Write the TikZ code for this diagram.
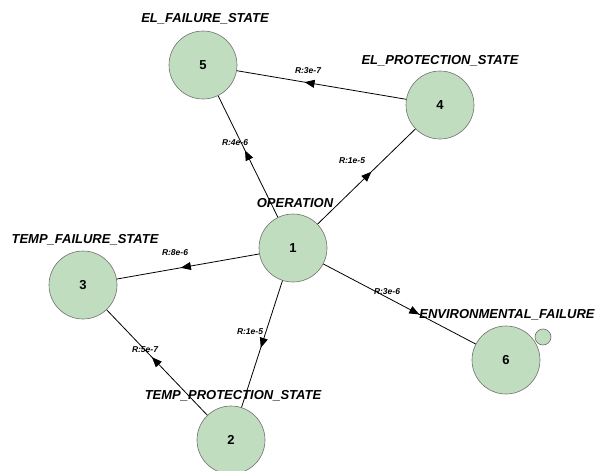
\documentclass[tikz,border=0pt]{standalone}
\usepackage{fontspec}
\setmainfont{Liberation Sans}
\usetikzlibrary{arrows.meta,decorations.markings}
\definecolor{stategreen}{RGB}{192,221,192}
\definecolor{stateedge}{RGB}{110,110,110}
\tikzset{
  state/.style={circle, draw=stateedge, fill=stategreen, line width=0.6pt,
    minimum size=68pt, inner sep=0pt, font=\fontsize{13}{13}\selectfont\bfseries},
  statename/.style={font=\fontsize{13}{13}\selectfont\bfseries\itshape},
  rate/.style={font=\fontsize{8.5}{8.5}\selectfont\bfseries\itshape},
  midtip/.style={postaction={decorate}, decoration={markings,
    mark=at position #1 with {\arrow{Triangle[length=10pt,width=8pt]}}}},
  trans/.style={draw, black, line width=0.8pt}
}
\begin{document}
\begin{tikzpicture}[x=1pt,y=-1pt]
                    \useasboundingbox (0,0) rectangle (598,471);
                    % States
                    \node[state] (s1) at (293,248) {1};
                    \node[state] (s2) at (231,440) {2};
                    \node[state] (s3) at (83,285) {3};
                    \node[state] (s4) at (440,105) {4};
                    \node[state] (s5) at (203,65) {5};
                    \node[state] (s6) at (506,360) {6};
                    \node[circle, draw=stateedge, fill=stategreen, line width=0.6pt,
                      minimum size=16pt, inner sep=0pt] (s6self) at (543,337) {};
                    % State names
                    \node[statename] (n1) at (295,203) {OPERATION};
                    \node[statename] (n2) at (233,396) {TEMP\_PROTECTION\_STATE};
                    \node[statename] (n3) at (85,240) {TEMP\_FAILURE\_STATE};
                    \node[statename] (n4) at (440,61) {EL\_PROTECTION\_STATE};
                    \node[statename] (n5) at (205,19) {EL\_FAILURE\_STATE};
                    \node[statename] (n6) at (507,315) {ENVIRONMENTAL\_FAILURE};
                    % Transitions
                    \draw[trans, midtip=0.55] (s1) -- (s5);
                    \draw[trans, midtip=0.55] (s1) -- (s4);
                    \draw[trans, midtip=0.6] (s4) -- (s5);
                    \draw[trans, midtip=0.55] (s1) -- (s3);
                    \draw[trans, midtip=0.63] (s1) -- (s6);
                    \draw[trans, midtip=0.53] (s1) -- (s2);
                    \draw[trans, midtip=0.55] (s2) -- (s3);
                    % Rates
                    \node[rate] (r15) at (235,143) {R:4e-6};
                    \node[rate] (r14) at (352,161) {R:1e-5};
                    \node[rate] (r45) at (308,71) {R:3e-7};
                    \node[rate] (r13) at (175,253) {R:8e-6};
                    \node[rate] (r16) at (387,292) {R:3e-6};
                    \node[rate] (r12) at (250,332) {R:1e-5};
                    \node[rate] (r23) at (145,350) {R:5e-7};
                \end{tikzpicture}
\end{document}
